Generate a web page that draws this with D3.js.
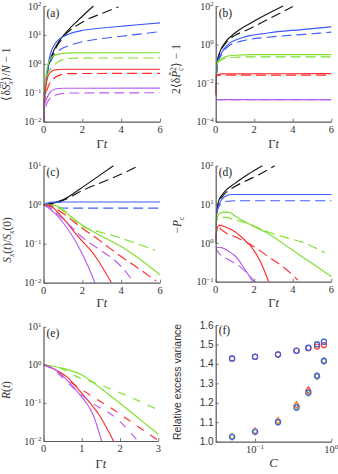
<!DOCTYPE html>
<html><head><meta charset="utf-8">
<script src="https://cdn.jsdelivr.net/npm/d3@7"></script>
<style>body{margin:0;background:#fff}svg{display:block}</style>
</head><body>
<svg id="c" width="338" height="474"></svg>
<script>
// ---------------- DATA ----------------
const xTicks6 = [0, 2, 4, 6];
const xTicks3 = [0, 1, 2, 3];
const yExpA = [-2, -1, 0, 1, 2];
const yExpB = [-4, -2, 0, 2];
const yExpC = [-2, -1, 0, 1];
const yExpD = [-1, 0, 1, 2];
const yExpE = [-2, -1, 0, 1];
const yTicksF = [1.0, 1.1, 1.2, 1.3, 1.4, 1.5, 1.6];
const xExpF = [-1, 0];

// panel (a)
const aBlackSolid  = [[0,0.01],[0.05,0.06],[0.17,0.44],[0.3,1.1],[0.51,2.7],[0.8,6],[1.2,13],[1.8,33],[2.57,100]];
const aBlackDashed = [[0,0.01],[0.05,0.05],[0.2,0.5],[0.5,2.2],[1.0,8],[2.06,29],[3.0,55],[3.86,92]];
const aBlueSolid   = [[0,0.01],[0.05,0.06],[0.17,0.42],[0.34,2.0],[0.69,6],[1.2,10],[1.9,13.8],[2.9,17],[4,20],[5,23],[6,26]];
const aBlueDashed  = [[0,0.01],[0.05,0.05],[0.2,0.45],[0.5,1.8],[0.86,3.1],[1.2,4],[1.9,5.6],[2.9,7.3],[4.6,10],[6,13]];
const aGreenSolid  = [[0,0.01],[0.04,0.08],[0.14,0.44],[0.26,1.1],[0.5,1.86],[0.9,2.25],[1.5,2.4],[6,2.42]];
const aGreenDashed = [[0,0.01],[0.05,0.06],[0.2,0.4],[0.43,0.74],[0.69,1.1],[1.0,1.4],[1.6,1.58],[6,1.6]];
const aRedSolid    = [[0,0.01],[0.03,0.06],[0.09,0.12],[0.17,0.26],[0.34,0.5],[0.6,0.62],[1.0,0.65],[6,0.65]];
const aRedDashed   = [[0,0.01],[0.05,0.05],[0.3,0.2],[0.5,0.3],[0.8,0.4],[1.3,0.46],[6,0.47]];
const aPurpleSolid = [[0,0.01],[0.04,0.035],[0.14,0.055],[0.34,0.105],[0.6,0.135],[1.0,0.143],[6,0.144]];
const aPurpleDashed= [[0,0.01],[0.1,0.03],[0.3,0.06],[0.5,0.075],[0.8,0.09],[1.3,0.098],[6,0.1]];

// panel (b)
const bBlackSolid  = [[0,0.003],[0.03,0.02],[0.1,0.15],[0.2,0.37],[0.47,1.2],[1.0,4],[2.0,16.6],[3.5,100]];
const bBlackDashed = [[0,0.003],[0.03,0.02],[0.1,0.15],[0.2,0.35],[0.5,1.1],[1.0,3],[1.5,5],[2.7,20],[4.0,93]];
const bBlueSolid   = [[0,0.003],[0.03,0.02],[0.1,0.12],[0.3,0.37],[0.64,1.0],[1.33,2.2],[2.7,4],[4.45,6],[6,8.3]];
const bBlueDashed  = [[0,0.003],[0.03,0.02],[0.1,0.1],[0.3,0.3],[0.64,0.8],[1.33,1.5],[2.7,2.4],[4.45,3.3],[6,4.4]];
const bGreenSolid  = [[0,0.003],[0.01,0.02],[0.035,0.06],[0.12,0.135],[0.47,0.23],[1.0,0.28],[2,0.3],[6,0.3]];
const bGreenDashed = [[0,0.003],[0.01,0.02],[0.035,0.055],[0.12,0.12],[0.47,0.19],[1.0,0.22],[2,0.23],[6,0.23]];
const bRedSolid    = [[0,0.002],[0.01,0.01],[0.03,0.02],[0.1,0.027],[0.3,0.03],[6,0.031]];
const bRedDashed   = [[0,0.002],[0.01,0.01],[0.03,0.019],[0.1,0.025],[0.3,0.026],[6,0.026]];
const bPurpleSolid = [[0,0.0014],[6,0.0014]];
const bPurpleDashed= [[0,0.00138],[6,0.00138]];

// panel (c)
const cBlackSolid  = [[0,1],[0.5,1.1],[1.03,1.35],[1.9,2.57],[2.76,5.1],[3.6,10]];
const cBlackDashed = [[0,1],[0.5,1.05],[0.86,1.2],[2.07,2.4],[3.3,4.3],[4.3,7.1],[4.9,10]];
const cBlueSolid   = [[0,1],[0.2,1.1],[0.5,1.16],[1,1.17],[6,1.17]];
const cBlueDashed  = [[0,1],[0.3,0.92],[0.7,0.84],[1.2,0.82],[6,0.82]];
const cGreenSolid  = [[0,1],[0.5,0.97],[0.8,0.88],[1.4,0.5],[2.0,0.3],[2.8,0.175],[4.0,0.085],[4.7,0.05],[6,0.016]];
const cGreenDashed = [[0,1],[0.5,0.95],[1.0,0.7],[1.55,0.42],[1.9,0.3],[2.9,0.2],[3.6,0.16],[4.7,0.105],[5.75,0.068]];
const cRedSolid    = [[0,1],[0.3,0.97],[0.6,0.75],[1.0,0.45],[1.8,0.15],[2.7,0.045],[3.5,0.01]];
const cRedDashed   = [[0,1],[0.5,0.85],[1.0,0.6],[1.9,0.27],[2.9,0.12],[3.8,0.055],[4.8,0.025],[5.8,0.011]];
const cPurpleSolid = [[0,1],[0.3,0.8],[0.7,0.53],[1.0,0.35],[1.5,0.155],[1.9,0.068],[2.3,0.026],[2.65,0.01]];
const cPurpleDashed= [[0,1],[0.4,0.8],[0.7,0.58],[1.2,0.35],[1.9,0.16],[2.9,0.07],[3.6,0.04],[4.2,0.02],[4.6,0.011]];

// panel (d)
const dBlackSolid  = [[0,1],[0.05,6],[0.15,12],[0.38,19],[1.0,35],[1.68,60],[2.42,100]];
const dBlackDashed = [[0,1],[0.05,6],[0.15,11],[0.4,17],[1.0,29],[1.5,39],[2.36,63],[3.06,100]];
const dBlueSolid   = [[0,1],[0.05,6],[0.2,10.6],[0.47,15.8],[0.8,18],[6,18]];
const dBlueDashed  = [[0,1],[0.05,5],[0.15,8.5],[0.3,10.5],[0.6,12],[1.0,12.4],[6,12.4]];
const dGreenSolid  = [[0,1],[0.05,4],[0.15,5.5],[0.4,6.3],[0.7,6.2],[1.0,5.0],[1.78,3.0],[2.7,1.8],[3.86,0.72],[5,0.3],[6,0.135]];
const dGreenDashed = [[0,1],[0.05,3.8],[0.2,4.6],[0.5,4.6],[1.0,4.0],[1.6,3.3],[2.7,1.95],[3.6,1.4],[4.45,1.07],[5.66,0.56]];
const dRedSolid    = [[0,1.2],[0.05,2.2],[0.2,2.9],[0.5,2.6],[1.0,1.95],[1.5,1.2],[1.85,0.8],[2.3,0.35],[2.75,0.1]];
const dRedDashed   = [[0,1.2],[0.05,2.0],[0.15,2.6],[0.3,2.2],[0.6,1.75],[1.0,1.45],[1.85,0.89],[2.72,0.45],[3.6,0.22],[4.27,0.11]];
const dPurpleSolid = [[0,0.78],[0.3,0.76],[0.7,0.6],[1.0,0.47],[1.6,0.18],[2.0,0.09]];
const dPurpleDashed= [[0,0.78],[0.1,0.6],[0.4,0.45],[0.8,0.34],[1.2,0.26],[1.6,0.17],[2.1,0.09]];

// panel (e)
const eGreenSolid  = [[0,1],[0.5,0.81],[1.0,0.54],[1.5,0.24],[2.0,0.098],[2.5,0.038],[3,0.015]];
const eGreenDashed = [[0,1],[0.4,0.85],[0.87,0.49],[1.48,0.3],[2.35,0.13],[3,0.065]];
const eRedSolid    = [[0,1],[0.3,0.75],[0.6,0.49],[1.04,0.16],[1.48,0.044],[1.83,0.01]];
const eRedDashed   = [[0,1],[0.3,0.72],[0.7,0.36],[1.22,0.16],[1.91,0.059],[2.35,0.029],[2.96,0.011]];
const ePurpleSolid = [[0,1],[0.25,0.8],[0.52,0.49],[0.96,0.16],[1.3,0.048],[1.52,0.01]];
const ePurpleDashed= [[0,1],[0.3,0.7],[0.6,0.36],[1.22,0.107],[1.91,0.039],[2.43,0.011]];

// panel (f)
const fC           = [0.05, 0.1, 0.2, 0.35, 0.5, 0.65, 0.8];
const fUpperGreen  = [1.428, 1.436, 1.448, 1.467, 1.482, 1.501, 1.514];
const fUpperRed    = [1.427, 1.436, 1.448, 1.467, 1.481, 1.489, 1.497];
const fUpperBlue   = [1.428, 1.437, 1.449, 1.468, 1.483, 1.500, 1.514];
const fLowerRed    = [1.027, 1.055, 1.107, 1.188, 1.265, 1.338, 1.416];
const fLowerOrange = [1.026, 1.053, 1.104, 1.183, 1.258, 1.337, 1.415];
const fLowerGreen  = [1.025, 1.050, 1.100, 1.178, 1.250, 1.336, 1.414];
const fLowerBlue   = [1.025, 1.051, 1.100, 1.175, 1.252, 1.338, 1.415];

// ---------------- DRAW ----------------
const svg = d3.select("#c");
const serif = "'Liberation Serif','Times New Roman',serif";
const sans = "'Liberation Sans',Arial,sans-serif";
const col = {black:"#151515", blue:"#3d5cff", green:"#80e030", red:"#ff2a2a", purple:"#b95cf0", orange:"#ff9a1a"};
const axisCol = "#5a5a5a";
const txtCol = "#333";

function sup(exp){ return exp < 0 ? "\u2212" + (-exp) : String(exp); }

function styleAxis(g){
  g.select(".domain").attr("stroke", axisCol).attr("stroke-width", 1.2);
  g.selectAll(".tick line").attr("stroke", axisCol).attr("stroke-width", 0.8);
  g.selectAll(".tick text").remove();
}

function panel(p){
  const g = svg.append("g");
  const x = (p.xlog ? d3.scaleLog() : d3.scaleLinear()).domain(p.xd).range([p.x0, p.x1]);
  const y = (p.ylog ? d3.scaleLog() : d3.scaleLinear()).domain(p.yd).range([p.y1, p.y0]);
  const cid = "clip_" + p.name;
  svg.append("clipPath").attr("id", cid).append("rect")
    .attr("x", p.x0).attr("y", p.y0 - 1).attr("width", p.x1 - p.x0 + 2).attr("height", p.y1 - p.y0 + 1);
  const line = d3.line().x(d => x(d[0])).y(d => y(d[1])).curve(d3.curveMonotoneX);
  const sg = g.append("g").attr("clip-path", `url(#${cid})`);
  (p.series || []).forEach(s => {
    sg.append("path").attr("d", line(s.d)).attr("fill", "none")
      .attr("stroke", col[s.c]).attr("stroke-width", 1.15)
      .attr("stroke-dasharray", s.dash ? p.dash : null);
  });
  // axes
  const ya = d3.axisLeft(y).tickValues(p.yt).tickSize(-3).tickSizeOuter(0);
  const xa = d3.axisBottom(x).tickValues(p.xt).tickSize(-3).tickSizeOuter(0);
  const gy = g.append("g").attr("transform", `translate(${p.x0},0)`).call(ya); styleAxis(gy);
  const gx = g.append("g").attr("transform", `translate(0,${p.y1})`).call(xa); styleAxis(gx);
  // y tick labels
  p.yt.forEach(v => {
    const t = g.append("text").attr("x", p.x0 - 2).attr("y", y(v) + 3.5)
      .attr("text-anchor", "end").attr("fill", txtCol);
    if (p.ylog) {
      t.attr("font-family", serif).attr("font-size", 10);
      t.append("tspan").text("10");
      t.append("tspan").attr("dy", -3.6).attr("font-size", 6.8).text(sup(Math.round(Math.log10(v))));
    } else {
      t.attr("font-family", sans).attr("font-size", 10).text(d3.format(".1f")(v));
    }
  });
  // x tick labels
  p.xt.forEach(v => {
    const t = g.append("text").attr("x", x(v)).attr("y", p.y1 + 11)
      .attr("text-anchor", "middle").attr("fill", txtCol).attr("font-family", serif).attr("font-size", 10.5);
    if (p.xlog) {
      t.append("tspan").text("10");
      t.append("tspan").attr("dy", -4).attr("font-size", 7).text(sup(Math.round(Math.log10(v))));
    } else t.text(v);
  });
  // panel tag
  g.append("text").attr("x", p.x0 + 3).attr("y", p.tagY).attr("font-family", serif)
    .attr("font-size", 11.5).attr("fill", "#222").text(p.tag);
  // x label
  const xl = g.append("text").attr("x", (p.x0 + p.x1) / 2).attr("y", p.xlY)
    .attr("text-anchor", "middle").attr("font-family", serif).attr("font-size", 12.5).attr("fill", txtCol);
  if (p.xlab === "C") xl.append("tspan").attr("font-style", "italic").text("C");
  else { xl.append("tspan").text("\u0393"); xl.append("tspan").attr("font-style", "italic").text("t"); }
  // y label
  const yl = g.append("g").attr("transform", `translate(${p.ylX},${p.ylY}) rotate(-90)`)
    .append("text").attr("text-anchor", "middle").attr("font-family", p.ylabSans ? sans : serif)
    .attr("font-size", p.ylabSans ? 10.5 : 11.5).attr("fill", txtCol);
  p.ylab.forEach(part => {
    const ts = yl.append("tspan").text(part.t);
    if (part.i) ts.attr("font-style", "italic");
    if (part.s) ts.attr("font-size", part.s);
    if (part.dy) ts.attr("dy", part.dy);
    if (part.dx) ts.attr("dx", part.dx);
  });
  return {g, x, y};
}

function series(b, k, g, r, pu){
  const out = [];
  if (b) out.push({d:b[0], c:"black"}, {d:b[1], c:"black", dash:true});
  if (k) out.push({d:k[0], c:"blue"}, {d:k[1], c:"blue", dash:true});
  out.push({d:g[0], c:"green"}, {d:g[1], c:"green", dash:true});
  out.push({d:r[0], c:"red"}, {d:r[1], c:"red", dash:true});
  out.push({d:pu[0], c:"purple"}, {d:pu[1], c:"purple", dash:true});
  return out;
}

const L = {x0:43.5, x1:160};
const R = {x0:215.7, x1:331.3};

panel({name:"a", ...L, y0:6, y1:121.7, xd:[0,6], yd:[0.01,100], ylog:true,
  xt:xTicks6, yt:yExpA.map(e => Math.pow(10, e)), dash:"10,5", tag:"(a)", tagY:17,
  xlY:148, ylX:10, ylY:74, xlab:"Gt",
  ylab:[{t:"\u27E8\u03B4"},{t:"\u015C",i:1},{t:"x",i:1,s:7.5,dy:2.5},{t:"2",s:7.5,dx:-4,dy:-7},{t:"\u27E9/",dy:4.5},{t:"N",i:1},{t:" \u2212 1"}],
  series: series([aBlackSolid,aBlackDashed],[aBlueSolid,aBlueDashed],[aGreenSolid,aGreenDashed],[aRedSolid,aRedDashed],[aPurpleSolid,aPurpleDashed])});

panel({name:"b", ...R, y0:6, y1:121.7, xd:[0,6], yd:[1e-4,100], ylog:true,
  xt:xTicks6, yt:yExpB.map(e => Math.pow(10, e)), dash:"10,5", tag:"(b)", tagY:17,
  xlY:148, ylX:180, ylY:69, xlab:"Gt",
  ylab:[{t:"2\u27E8\u03B4"},{t:"P\u0302",i:1},{t:"c",i:1,s:7.5,dy:2.5},{t:"2",s:7.5,dx:-3.5,dy:-7},{t:"\u27E9 \u2212 1",dy:4.5}],
  series: series([bBlackSolid,bBlackDashed],[bBlueSolid,bBlueDashed],[bGreenSolid,bGreenDashed],[bRedSolid,bRedDashed],[bPurpleSolid,bPurpleDashed])});

panel({name:"c", ...L, y0:165.7, y1:282.7, xd:[0,6], yd:[0.01,10], ylog:true,
  xt:xTicks6, yt:yExpC.map(e => Math.pow(10, e)), dash:"10,5", tag:"(c)", tagY:176,
  xlY:307, ylX:11, ylY:240, xlab:"Gt",
  ylab:[{t:"S",i:1},{t:"x",i:1,s:7.5,dy:2.5},{t:"(",dy:-2.5},{t:"t",i:1},{t:")/"},{t:"S",i:1},{t:"x",i:1,s:7.5,dy:2.5},{t:"(0)",dy:-2.5}],
  series: series([cBlackSolid,cBlackDashed],[cBlueSolid,cBlueDashed],[cGreenSolid,cGreenDashed],[cRedSolid,cRedDashed],[cPurpleSolid,cPurpleDashed])});

panel({name:"d", ...R, y0:165.7, y1:281.7, xd:[0,6], yd:[0.1,100], ylog:true,
  xt:xTicks6, yt:yExpD.map(e => Math.pow(10, e)), dash:"10,5", tag:"(d)", tagY:176,
  xlY:307, ylX:181, ylY:225, xlab:"Gt",
  ylab:[{t:"\u2212"},{t:"P",i:1},{t:"c",s:7.5,dy:2.5}],
  series: series([dBlackSolid,dBlackDashed],[dBlueSolid,dBlueDashed],[dGreenSolid,dGreenDashed],[dRedSolid,dRedDashed],[dPurpleSolid,dPurpleDashed])});

panel({name:"e", ...L, x1:158.3, y0:326.7, y1:441, xd:[0,3], yd:[0.01,10], ylog:true,
  xt:xTicks3, yt:yExpE.map(e => Math.pow(10, e)), dash:"8,8", tag:"(e)", tagY:337,
  xlY:468, ylX:10, ylY:390, xlab:"Gt",
  ylab:[{t:"R",i:1},{t:"("},{t:"t",i:1},{t:")"}],
  series: series(null, null, [eGreenSolid,eGreenDashed],[eRedSolid,eRedDashed],[ePurpleSolid,ePurpleDashed])});

const pf = panel({name:"f", ...R, y0:325, y1:441.7, xd:[0.0305,1], xlog:true, yd:[1.0,1.6], ylog:false,
  xt:xExpF.map(e => Math.pow(10, e)), yt:yTicksF, dash:null, tag:"(f)", tagY:334,
  xlY:467, ylX:181, ylY:382, xlab:"C", ylabSans:true,
  ylab:[{t:"Relative excess variance"}], series:[]});

function circles(vals, c){
  pf.g.append("g").selectAll("circle").data(fC).join("circle")
    .attr("cx", d => pf.x(d)).attr("cy", (d, i) => pf.y(vals[i])).attr("r", 2.6)
    .attr("fill", "none").attr("stroke", col[c]).attr("stroke-width", 1.1);
}
function diamonds(vals, c){
  const s = 3.2;
  pf.g.append("g").selectAll("path").data(fC).join("path")
    .attr("d", (d, i) => { const cx = pf.x(d), cy = pf.y(vals[i]);
      return `M${cx},${cy - s}L${cx + s * 0.8},${cy}L${cx},${cy + s}L${cx - s * 0.8},${cy}Z`; })
    .attr("fill", "none").attr("stroke", col[c]).attr("stroke-width", 1.1);
}
circles(fUpperGreen, "green");
circles(fUpperRed, "red");
circles(fUpperBlue, "blue");
diamonds(fLowerRed, "red");
diamonds(fLowerOrange, "orange");
diamonds(fLowerGreen, "green");
circles(fLowerBlue, "blue");
</script>
</body></html>
